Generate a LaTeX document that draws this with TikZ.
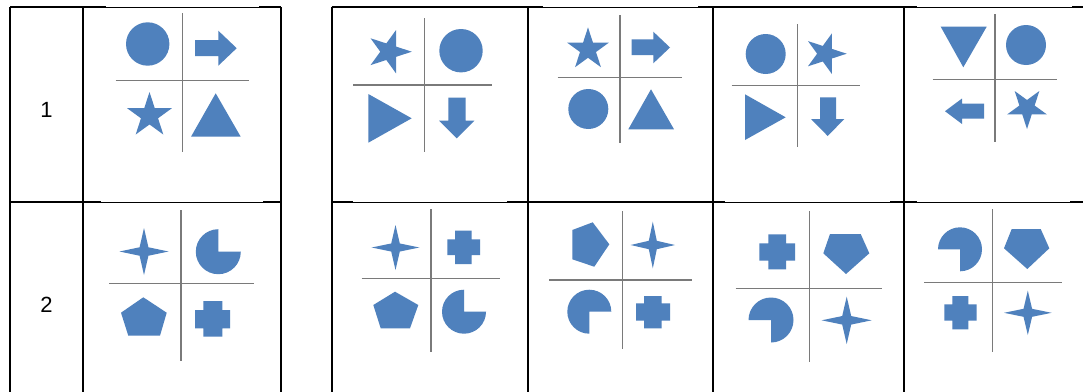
\documentclass[tikz,border=0pt]{standalone}
\usepackage{fontspec}
\setmainfont{Liberation Sans}
\definecolor{shapeblue}{HTML}{4F81BD}
\definecolor{gridgray}{HTML}{7A7A7A}
\tikzset{
  shp/.style={fill=shapeblue, draw=none},
  border/.style={line width=2pt, black},
  thinborder/.style={line width=0.8pt, black},
  gridline/.style={line width=1.1pt, gridgray},
  rowlabel/.style={font=\fontsize{22}{26}\selectfont, inner sep=0pt}
}
% five point star: cx, cy, R, angle of first point
\newcommand\starfive[4]{%
  \fill[shp] ([shift={(#1,#2)}]#4:#3)
    \foreach \k in {1,...,4}{ -- ([shift={(#1,#2)}]{#4+72*\k-36}:{0.382*#3}) -- ([shift={(#1,#2)}]{#4+72*\k}:#3)}
    -- ([shift={(#1,#2)}]{#4+324}:{0.382*#3}) -- cycle;}
% four point star: cx, cy, half width, half height
\newcommand\starfour[4]{%
  \fill[shp] ({#1+#3},#2) -- ({#1+0.18*#3},{#2+0.18*#4}) -- (#1,{#2+#4}) -- ({#1-0.18*#3},{#2+0.18*#4})
    -- ({#1-#3},#2) -- ({#1-0.18*#3},{#2-0.18*#4}) -- (#1,{#2-#4}) -- ({#1+0.18*#3},{#2-0.18*#4}) -- cycle;}
% pie: cx, cy, r, start, end
\newcommand\pieshape[5]{%
  \fill[shp] (#1,#2) -- ([shift={(#1,#2)}]#4:#3) arc[start angle=#4, end angle=#5, radius=#3] -- cycle;}
% plus shape: xl xa xb xr yt ya yb ybot
\newcommand\plusshape[8]{%
  \fill[shp] (#2,#5) -- (#3,#5) -- (#3,#6) -- (#4,#6) -- (#4,#7) -- (#3,#7) -- (#3,#8) -- (#2,#8)
    -- (#2,#7) -- (#1,#7) -- (#1,#6) -- (#2,#6) -- cycle;}
% quadrant lines: vx vy1 vy2 hy hx1 hx2
\newcommand\quadlines[6]{%
  \draw[gridline] (#1,#2) -- (#1,#3);
  \draw[gridline] (#5,#4) -- (#6,#4);}
% thin border segment: y x1 x2
\newcommand\thinseg[3]{%
  \fill[white] (#2,{#1-1.3}) rectangle (#3,{#1+1.3});
  \draw[thinborder] (#2,#1) -- (#3,#1);}
\begin{document}
\begin{tikzpicture}[x=1pt,y=1pt,yscale=-1]
\useasboundingbox (0,0) rectangle (1083,391);
\fill[white] (0,0) rectangle (1083,391);
% ---------- table borders ----------
\draw[border] (10,7.3) -- (281,7.3);
\draw[border] (10,202.2) -- (281,202.2);
\draw[border] (10,7.3) -- (10,395);
\draw[border] (83.3,7.3) -- (83.3,395);
\draw[border] (281,7.3) -- (281,395);
\draw[border] (331.7,7.3) -- (1090,7.3);
\draw[border] (331.7,202.2) -- (1090,202.2);
\draw[border] (331.7,7.3) -- (331.7,395);
\draw[border] (528.3,7.3) -- (528.3,395);
\draw[border] (713.3,7.3) -- (713.3,395);
\draw[border] (904,7.3) -- (904,395);
% picture edges overlapping the borders
\thinseg{7.3}{106}{258.7}
\thinseg{7.3}{542.7}{698.3}
\thinseg{7.3}{916.7}{1071.7}
\thinseg{202.2}{100.7}{263.3}
\thinseg{202.2}{353.3}{506.7}
\thinseg{202.2}{725}{890}
\thinseg{202.2}{916.7}{1070}
% ---------- row labels ----------
\node[rowlabel] (l1) at (46.5,110) {1};
\node[rowlabel] (l2) at (46.5,305) {2};
% ---------- row 1 ----------
% cell (1,1)
\quadlines{182.3}{13}{152}{80.3}{115.7}{249}
\fill[shp] (147.7,44) circle[radius=21.7];
\fill[shp] (195,40) -- (218.3,40) -- (218.3,30.7) -- (236.7,48.2) -- (218.3,65.7) -- (218.3,56) -- (195,56) -- cycle;
\starfive{149.5}{115.5}{23.5}{270}
\fill[shp] (191,136.7) -- (240.7,136.7) -- (215.7,93.3) -- cycle;
% cell (1,2)
\quadlines{424.3}{18.3}{151.7}{85}{353.3}{491.7}
\starfive{389}{51.7}{22.8}{0}
\fill[shp] (461,50.7) circle[radius=21.7];
\fill[shp] (368.3,94) -- (411.7,118.3) -- (368.3,142.7) -- cycle;
\fill[shp] (448.3,97.7) -- (465.7,97.7) -- (465.7,120.7) -- (474.3,120.7) -- (456.7,138.3) -- (439,120.7) -- (448.3,120.7) -- cycle;
% cell (1,3)
\quadlines{620}{15}{142.7}{77.3}{557.7}{682.3}
\starfive{588}{49.4}{22}{270}
\fill[shp] (631.7,39.3) -- (653.3,39.3) -- (653.3,31.7) -- (670,47.5) -- (653.3,63.3) -- (653.3,55) -- (631.7,55) -- cycle;
\fill[shp] (588.3,109) circle[radius=20];
\fill[shp] (628.3,129.3) -- (674,129.3) -- (651,89.3) -- cycle;
% cell (1,4)
\quadlines{797.3}{24}{147.3}{85.7}{731.7}{860}
\fill[shp] (765.7,54) circle[radius=20];
\starfive{825.3}{53.7}{21.4}{0}
\fill[shp] (745,94.3) -- (785.7,117.3) -- (745,140) -- cycle;
\fill[shp] (820,97.3) -- (836,97.3) -- (836,119) -- (844.3,119) -- (827.7,136) -- (811,119) -- (820,119) -- cycle;
% cell (1,5)
\quadlines{995}{14}{141.7}{79.3}{932.7}{1057.3}
\fill[shp] (940.7,26.7) -- (986.7,26.7) -- (963.3,67.3) -- cycle;
\fill[shp] (1026,45) circle[radius=20];
\fill[shp] (984,103.5) -- (962,103.5) -- (962,98.5) -- (945,111.2) -- (962,124) -- (962,118.5) -- (984,118.5) -- cycle;
\starfive{1027}{108}{21}{90}
% ---------- row 2 ----------
% cell (2,1)
\quadlines{181}{210}{360.7}{283.3}{109}{254}
\starfour{144}{251.5}{24.5}{23.5}
\pieshape{218.3}{251.7}{22.5}{0}{270}
\fill[shp] (143.3,297.3) -- (166.7,312.7) -- (160,335.7) -- (128.3,335.7) -- (121,312.7) -- cycle;
\plusshape{195}{203.3}{222.3}{230}{301}{310}{328.3}{336.7}
% cell (2,2)
\quadlines{431}{209.3}{351.7}{278.3}{361.7}{500}
\starfour{395.5}{247.5}{23.8}{22.5}
\plusshape{447.3}{455}{471.7}{480}{230.7}{239.3}{255}{264}
\fill[shp] (395,291.7) -- (418.3,305) -- (410,328.3) -- (380.7,328.3) -- (373.3,305) -- cycle;
\pieshape{464}{311.7}{22}{0}{270}
% cell (2,3)
\quadlines{622.7}{211}{349}{280}{549.3}{691.7}
\fill[shp] (592.7,222.3) -- (609.3,244.3) -- (594.3,266.7) -- (572.3,259.3) -- (572.3,230) -- cycle;
\starfour{652.8}{245}{22.2}{23.3}
\pieshape{589.3}{311.7}{22}{90}{360}
\plusshape{636}{644}{661.7}{670}{296}{303.3}{320.7}{328.3}
% cell (2,4)
\quadlines{809.3}{211}{361.7}{288.3}{735.7}{881.7}
\plusshape{759.3}{768.3}{786}{795}{234.3}{243.3}{260.7}{269.3}
\fill[shp] (830,234) -- (860.7,234) -- (869.3,253.3) -- (846,274) -- (823.3,253.3) -- cycle;
\pieshape{771}{320}{22.5}{180}{450}
\starfour{846.7}{320.3}{25}{23.7}
% cell (2,5)
\quadlines{992.7}{209.3}{351.7}{282.3}{924}{1061.7}
\pieshape{960}{249.3}{22}{180}{450}
\fill[shp] (1011.7,229) -- (1040.7,229) -- (1049.3,248.3) -- (1027.3,269) -- (1004,248.3) -- cycle;
\plusshape{944.3}{952.3}{968.3}{976.7}{296}{304.3}{320.7}{329.3}
\starfour{1027.8}{312.8}{23.8}{22.2}
\end{tikzpicture}
\end{document}
